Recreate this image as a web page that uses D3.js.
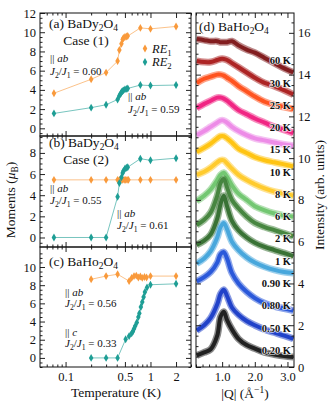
<!DOCTYPE html>
<html>
<head>
<meta charset="utf-8">
<script src="https://cdn.jsdelivr.net/npm/d3@7"></script>
<style>
body { margin: 0; background: #fff; }
svg text { font-family: "Liberation Serif", "Times New Roman", "DejaVu Serif", serif; fill: #111; }
</style>
</head>
<body>
<div id="chart"></div>
<script>
// ---- panel (a) BaDy2O4 case (1)
var aT1 = [0.073, 0.2, 0.3, 0.41, 0.43, 0.455, 0.47, 0.48, 0.5, 0.52, 0.54, 0.76, 1.0, 2.0];
var aM1 = [3.65, 5.1, 5.8, 7.0, 8.15, 8.8, 9.25, 9.4, 9.5, 9.55, 9.6, 10.45, 10.35, 10.6];
var aT2 = [0.073, 0.2, 0.3, 0.41, 0.43, 0.445, 0.455, 0.465, 0.48, 0.5, 0.52, 0.54, 0.76, 1.0, 2.0];
var aM2 = [1.55, 2.15, 2.45, 3.0, 3.4, 3.6, 3.75, 3.85, 3.95, 4.05, 4.1, 4.15, 4.5, 4.45, 4.5];
// ---- panel (b) BaDy2O4 case (2)
var bT1 = [0.073, 0.2, 0.3, 0.41, 0.43, 0.45, 0.47, 0.49, 0.51, 0.53, 0.55, 0.76, 1.0, 2.0];
var bM1 = [5.45, 5.45, 5.45, 5.45, 5.45, 5.45, 5.45, 5.45, 5.45, 5.45, 5.45, 5.45, 5.45, 5.45];
var bT2 = [0.073, 0.2, 0.3, 0.41, 0.43, 0.455, 0.47, 0.48, 0.5, 0.52, 0.54, 0.76, 1.0, 2.0];
var bM2 = [0, 0, 0, 3.85, 5.15, 5.7, 6.1, 6.3, 6.5, 6.6, 6.65, 7.45, 7.3, 7.5];
// ---- panel (c) BaHo2O4
var cT1 = [0.2, 0.3, 0.41, 0.56, 0.6, 0.64, 0.68, 0.72, 0.76, 0.8, 0.85, 0.9, 1.0, 2.0];
var cM1 = [8.65, 9.0, 9.2, 8.45, 8.8, 9.0, 9.05, 8.85, 8.95, 8.8, 8.9, 8.85, 9.0, 9.0];
var cT2 = [0.2, 0.3, 0.41, 0.51, 0.56, 0.6, 0.62, 0.64, 0.66, 0.69, 0.72, 0.74, 0.77, 0.8, 0.83, 0.86, 0.91, 1.0, 2.0];
var cM2 = [0, 0, 0, 2.05, 2.4, 2.7, 2.9, 3.2, 3.5, 3.9, 4.5, 4.9, 5.6, 6.15, 6.7, 7.25, 7.75, 8.05, 8.15];

var tempTicks = [0.1, 0.5, 1, 2];
var tempMinor = [0.06, 0.07, 0.08, 0.09, 0.2, 0.3, 0.4, 0.6, 0.7, 0.8, 0.9, 3];
var momentTicks = [[0, 2, 4, 6, 8, 10, 12], [0, 2, 4, 6, 8], [0, 2, 4, 6, 8, 10]];

// ---- panel (d) intensity vs |Q|, curves offset
var qGrid = [0.22, 0.45, 0.65, 0.85, 0.95, 1.05, 1.15, 1.3, 1.5, 1.75, 2.0, 2.3, 2.6, 2.9, 3.18];
var scanLabels = ["60 K", "30 K", "25 K", "20 K", "15 K", "10 K", "8 K", "6 K", "2 K", "1 K", "0.90 K", "0.80 K", "0.50 K", "0.20 K"];
var scanColors = ["#7b1214", "#a81818", "#ff4a14", "#ef1a7c", "#ec86e6", "#ffc107", "#ffc824", "#6cc46a", "#3d7f36", "#2f6a2a", "#3ea2da", "#1f50d8", "#1538c6", "#151515"];
var scans = [
  [15.7, 15.65, 15.6, 15.6, 15.55, 15.55, 15.55, 15.6, 15.4, 15.2, 15.05, 14.8, 14.55, 14.3, 14.1],
  [14.65, 14.6, 14.6, 14.7, 14.75, 14.75, 14.7, 14.55, 14.35, 14.1, 13.85, 13.6, 13.45, 13.25, 13.05],
  [13.6, 13.8, 13.9, 14.0, 14.0, 13.95, 13.85, 13.7, 13.45, 13.2, 12.95, 12.7, 12.55, 12.45, 12.35],
  [12.4, 12.6, 12.75, 12.9, 12.9, 12.85, 12.75, 12.55, 12.3, 12.1, 11.9, 11.7, 11.5, 11.35, 11.2],
  [11.1, 11.3, 11.5, 11.7, 11.8, 11.8, 11.7, 11.5, 11.3, 11.1, 10.95, 10.85, 10.75, 10.65, 10.6],
  [10.3, 10.5, 10.7, 10.95, 11.05, 11.05, 10.95, 10.75, 10.45, 10.25, 10.05, 9.9, 9.8, 9.7, 9.6],
  [9.2, 9.35, 9.55, 9.8, 9.9, 9.9, 9.75, 9.5, 9.2, 8.95, 8.75, 8.55, 8.4, 8.3, 8.2],
  [7.95, 8.2, 8.5, 8.95, 9.2, 9.3, 9.1, 8.7, 8.3, 8.0, 7.7, 7.5, 7.35, 7.25, 7.2],
  [6.8, 7.05, 7.4, 8.2, 8.8, 9.0, 8.6, 8.0, 7.6, 7.2, 6.9, 6.7, 6.55, 6.4, 6.25],
  [5.85, 6.05, 6.35, 7.1, 7.8, 8.2, 7.7, 7.0, 6.55, 6.2, 5.95, 5.75, 5.6, 5.45, 5.3],
  [4.95, 5.2, 5.55, 6.2, 6.7, 6.9, 6.6, 6.0, 5.6, 5.25, 5.0, 4.8, 4.65, 4.55, 4.5],
  [4.1, 4.3, 4.55, 5.0, 5.4, 5.5, 5.2, 4.5, 4.0, 3.6, 3.3, 3.05, 2.9, 2.8, 2.7],
  [1.75, 2.0, 2.35, 3.0, 3.5, 3.7, 3.4, 2.85, 2.5, 2.2, 2.0, 1.8, 1.65, 1.5, 1.35],
  [0.55, 0.7, 0.85, 1.5, 2.4, 2.65, 2.25, 1.8, 1.35, 1.05, 0.88, 0.7, 0.6, 0.52, 0.48]
];
var qTicks = [1, 2, 3];
var intensityTicks = [0, 2, 4, 6, 8, 10, 12, 14, 16];

var orange = "#f99a3c", teal = "#1e9e95";
var serif = "Liberation Serif, Times New Roman, DejaVu Serif, serif";

var svg = d3.select("#chart").append("svg")
    .attr("width", 334)
    .attr("height", 406)
    .attr("font-family", serif);

// text with sub/superscripts: parts = [[text, "sub"|"sup"|"", italic]]
function rich(g, x, y, parts, size, anchor) {
    var t = g.append("text")
        .attr("x", x).attr("y", y)
        .attr("font-size", size)
        .attr("text-anchor", anchor || "start");
    var shift = 0;
    parts.forEach(function(p) {
        var s = t.append("tspan").text(p[0]);
        var target = p[1] == "sub" ? size * 0.25 : (p[1] == "sup" ? -size * 0.38 : 0);
        if (target != shift) s.attr("dy", target - shift);
        shift = target;
        if (p[1]) s.attr("font-size", size * 0.7);
        if (p[2]) s.attr("font-style", "italic");
    });
    return t;
}

function par(g, x, y, dir) {
    return rich(g, x, y, [["|| ", ""], [dir, "", 1]], 11);
}
function ratio(g, x, y, val) {
    return rich(g, x, y, [["J", "", 1], ["2", "sub"], ["/", ""], ["J", "", 1], ["1", "sub"], [" = " + val, ""]], 11);
}

var x = d3.scaleLog().domain([0.05, 3]).range([40, 191]);

var panels = [
    {top: 13, bottom: 136, dom: [-0.8, 12], s1: [aT1, aM1], s2: [aT2, aM2]},
    {top: 136, bottom: 247, dom: [-0.9, 9.6], s1: [bT1, bM1], s2: [bT2, bM2]},
    {top: 247, bottom: 367, dom: [-1, 12.2], s1: [cT1, cM1], s2: [cT2, cM2]}
];

panels.forEach(function(p, i) {
    var y = d3.scaleLinear().domain(p.dom).range([p.bottom, p.top]);
    var g = svg.append("g");
    var yt = momentTicks[i];
    var ym = d3.range(Math.ceil(p.dom[0] * 2) / 2, p.dom[1], 0.5).filter(function(v) { return v % 2 != 0; });

    g.append("g").attr("transform", "translate(40,0)")
        .call(d3.axisLeft(y).tickValues(yt).tickSize(-5).tickPadding(4).tickFormat(d3.format("d")));
    g.append("g").attr("transform", "translate(40,0)")
        .call(d3.axisLeft(y).tickValues(ym).tickSize(-2.5).tickFormat(""));
    g.append("g").attr("transform", "translate(191,0)")
        .call(d3.axisRight(y).tickValues(yt).tickSize(-5).tickFormat(""));
    g.append("g").attr("transform", "translate(191,0)")
        .call(d3.axisRight(y).tickValues(ym).tickSize(-2.5).tickFormat(""));

    g.append("g").attr("transform", "translate(0," + p.bottom + ")")
        .call(d3.axisBottom(x).tickValues(tempTicks).tickSize(-5).tickPadding(5)
            .tickFormat(i == 2 ? function(d) { return d; } : ""));
    g.append("g").attr("transform", "translate(0," + p.bottom + ")")
        .call(d3.axisBottom(x).tickValues(tempMinor).tickSize(-2.5).tickFormat(""));
    g.append("g").attr("transform", "translate(0," + p.top + ")")
        .call(d3.axisTop(x).tickValues(tempTicks).tickSize(-5).tickFormat(""));
    g.append("g").attr("transform", "translate(0," + p.top + ")")
        .call(d3.axisTop(x).tickValues(tempMinor).tickSize(-2.5).tickFormat(""));

    g.selectAll(".domain").remove();
    g.selectAll("g").attr("font-family", serif);
    g.selectAll(".tick text").attr("font-size", 12.5);
    g.selectAll(".tick line").attr("stroke", "#222");

    g.append("rect")
        .attr("x", 40).attr("y", p.top)
        .attr("width", 151).attr("height", p.bottom - p.top)
        .attr("fill", "none").attr("stroke", "#111").attr("stroke-width", 1);

    [[p.s1, orange], [p.s2, teal]].forEach(function(s) {
        var pts = s[0][0].map(function(t, k) { return [t, s[0][1][k]]; });
        g.append("path")
            .datum(pts)
            .attr("fill", "none")
            .attr("stroke", s[1])
            .attr("stroke-opacity", 0.6)
            .attr("stroke-width", 1)
            .attr("d", d3.line().x(function(d) { return x(d[0]); }).y(function(d) { return y(d[1]); }));
        g.selectAll(null)
            .data(pts)
            .enter().append("path")
            .attr("transform", function(d) { return "translate(" + x(d[0]) + "," + y(d[1]) + ")"; })
            .attr("d", d3.symbol().type(d3.symbolDiamond).size(18))
            .attr("fill", s[1]);
    });
});

// panel annotations
var ann = svg.append("g");
rich(ann, 49, 28, [["(a) BaDy", ""], ["2", "sub"], ["O", ""], ["4", "sub"]], 13.5);
rich(ann, 86, 45, [["Case (1)", ""]], 13.5, "middle");
par(ann, 50, 62, "ab");
ratio(ann, 50, 75, "0.60");
par(ann, 128, 100, "ab");
ratio(ann, 128, 113, "0.59");

rich(ann, 49, 147, [["(b) BaDy", ""], ["2", "sub"], ["O", ""], ["4", "sub"]], 13.5);
rich(ann, 86, 164, [["Case (2)", ""]], 13.5, "middle");
par(ann, 50, 192, "ab");
ratio(ann, 50, 204, "0.55");
par(ann, 117, 217, "ab");
ratio(ann, 117, 229, "0.61");

rich(ann, 49, 266, [["(c) BaHo", ""], ["2", "sub"], ["O", ""], ["4", "sub"]], 13.5);
par(ann, 65, 296, "ab");
ratio(ann, 65, 307, "0.56");
par(ann, 65, 336, "c");
ratio(ann, 65, 347, "0.33");

// legend
[["1", orange, 48.5], ["2", teal, 62]].forEach(function(l) {
    ann.append("path")
        .attr("transform", "translate(145," + l[2] + ")")
        .attr("d", d3.symbol().type(d3.symbolDiamond).size(18))
        .attr("fill", l[1]);
    rich(ann, 152, l[2] + 4, [["RE", "", 1], [l[0], "sub"]], 12.5);
});

// axis titles
rich(ann, 0, 0, [["Moments (", ""], ["\u03bc", "", 1], ["B", "sub"], [")", ""]], 13.5, "middle")
    .attr("transform", "translate(15,200) rotate(-90)");
rich(ann, 116, 397, [["Temperature (K)", ""]], 13.5, "middle");

// ---- panel (d)
var xq = d3.scaleLinear().domain([0.2, 3.2]).range([196, 294]);
var yi = d3.scaleLinear().domain([0, 16.95]).range([367, 13]);
var gd = svg.append("g");

gd.append("clipPath").attr("id", "clipd")
    .append("rect").attr("x", 196).attr("y", 13).attr("width", 98).attr("height", 354);

var scanLine = d3.line()
    .curve(d3.curveCatmullRom)
    .x(function(d, k) { return xq(qGrid[k]); })
    .y(function(d) { return yi(d); });

var curves = gd.append("g").attr("clip-path", "url(#clipd)");
scans.forEach(function(s, i) {
    curves.append("path")
        .datum(s)
        .attr("fill", "none")
        .attr("stroke", scanColors[i])
        .attr("stroke-width", 7)
        .attr("stroke-opacity", 0.5)
        .attr("d", scanLine);
    curves.append("path")
        .datum(s)
        .attr("fill", "none")
        .attr("stroke", scanColors[i])
        .attr("stroke-width", 4)
        .attr("stroke-opacity", 0.9)
        .attr("d", scanLine);
});

// temperature labels, stacked along the right edge
var lblStep = (14.66 - 0.8) / (scanLabels.length - 1);
gd.selectAll(null)
    .data(scanLabels)
    .enter().append("text")
    .attr("x", 291)
    .attr("y", function(d, i) { return yi(0.8 + lblStep * (scanLabels.length - 1 - i)) + 3.5; })
    .attr("text-anchor", "end")
    .attr("font-size", 10.5)
    .attr("font-weight", "bold")
    .attr("stroke", "#fff")
    .attr("stroke-width", 1.2)
    .attr("paint-order", "stroke")
    .text(function(d) { return d; });

var ym2 = d3.range(0.5, 16.95, 0.5).filter(function(v) { return v % 2 != 0; });
var qMinor = d3.range(0.2, 3.19, 0.2).filter(function(v) { return Math.abs(v - Math.round(v)) > 0.01; });

gd.append("g").attr("transform", "translate(294,0)")
    .call(d3.axisRight(yi).tickValues(intensityTicks).tickSize(-5).tickPadding(4).tickFormat(d3.format("d")));
gd.append("g").attr("transform", "translate(294,0)")
    .call(d3.axisRight(yi).tickValues(ym2).tickSize(-2.5).tickFormat(""));
gd.append("g").attr("transform", "translate(196,0)")
    .call(d3.axisLeft(yi).tickValues(intensityTicks).tickSize(-5).tickFormat(""));
gd.append("g").attr("transform", "translate(196,0)")
    .call(d3.axisLeft(yi).tickValues(ym2).tickSize(-2.5).tickFormat(""));
gd.append("g").attr("transform", "translate(0,367)")
    .call(d3.axisBottom(xq).tickValues(qTicks).tickSize(-5).tickPadding(5).tickFormat(d3.format(".1f")));
gd.append("g").attr("transform", "translate(0,367)")
    .call(d3.axisBottom(xq).tickValues(qMinor).tickSize(-2.5).tickFormat(""));
gd.append("g").attr("transform", "translate(0,13)")
    .call(d3.axisTop(xq).tickValues(qTicks).tickSize(-5).tickFormat(""));
gd.append("g").attr("transform", "translate(0,13)")
    .call(d3.axisTop(xq).tickValues(qMinor).tickSize(-2.5).tickFormat(""));
gd.selectAll(".domain").remove();
gd.selectAll("g").attr("font-family", serif);
gd.selectAll(".tick text").attr("font-size", 12.5);
gd.selectAll(".tick line").attr("stroke", "#222");

gd.append("rect")
    .attr("x", 196).attr("y", 13).attr("width", 98).attr("height", 354)
    .attr("fill", "none").attr("stroke", "#111").attr("stroke-width", 1);

rich(gd, 199, 31, [["(d) BaHo", ""], ["2", "sub"], ["O", ""], ["4", "sub"]], 13.5);
rich(gd, 245, 398, [["|Q| (\u00c5", ""], ["\u22121", "sup"], [")", ""]], 13.5, "middle");
rich(gd, 0, 0, [["Intensity (arb. units)", ""]], 13.5, "middle")
    .attr("transform", "translate(324,195) rotate(-90)");
</script>
</body>
</html>
